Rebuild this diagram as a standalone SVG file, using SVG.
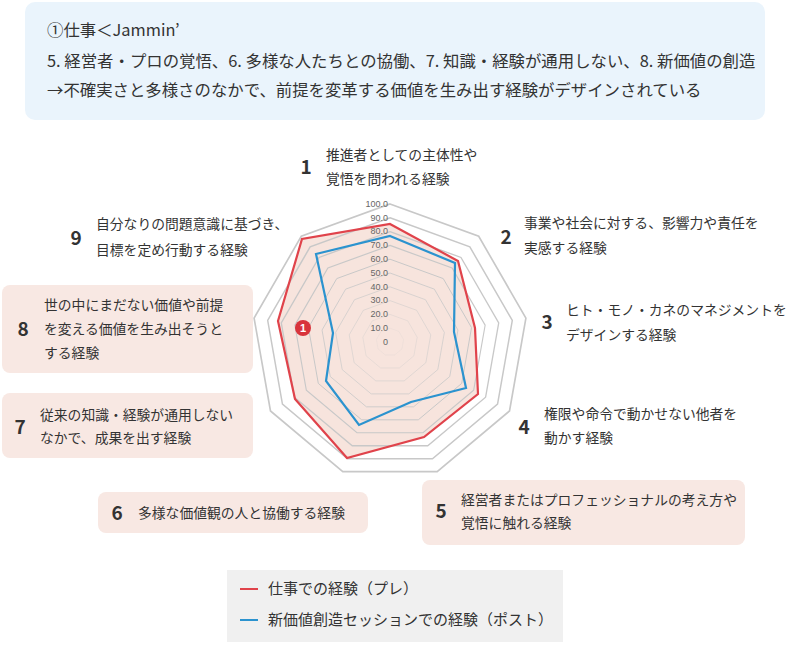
<svg xmlns="http://www.w3.org/2000/svg" xmlns:xlink="http://www.w3.org/1999/xlink" width="790" height="648" viewBox="0 0 790 648">
<style>
text{font-family:"Noto Sans CJK JP","Noto Sans",sans-serif;fill:#333}
.t{font-size:13.8px}
.n{font-size:19px;font-weight:bold;text-anchor:middle}
.h{font-size:16.4px}
.tick{font-size:9px;fill:#666;text-anchor:end;font-family:"Liberation Sans",sans-serif}
.box{fill:#f8e8e3}
.grid{fill:none;stroke:#c8c8c8;stroke-width:1.2;vector-effect:non-scaling-stroke}
</style>
<defs>
<polygon id="ng" points="0,-100 64.28,-76.6 98.48,-17.36 86.6,50 34.2,93.97 -34.2,93.97 -86.6,50 -98.48,-17.36 -64.28,-76.6"/>
</defs>
<g id="header">
<rect x="25" y="2" width="740" height="118" rx="10" fill="#eaf4fc"/>
<text class="h" x="47" y="36">①仕事＜Jammin’</text>
<text class="h" x="47" y="67">5. 経営者・プロの覚悟、6. 多様な人たちとの協働、7. 知識・経験が通用しない、8. 新価値の創造</text>
<text class="h" x="47" y="96">→不確実さと多様さのなかで、前提を変革する価値を生み出す経験がデザインされている</text>
</g>
<g id="chart">
<polygon points="390,224 458,261 475,328 478,394 424,437 347,458 295,399 278,321 302,239" fill="#f5ddd5" fill-opacity="0.8"/>
<g transform="translate(390,342)">
<use xlink:href="#ng" class="grid" transform="scale(0.138)"/>
<use xlink:href="#ng" class="grid" transform="scale(0.276)"/>
<use xlink:href="#ng" class="grid" transform="scale(0.414)"/>
<use xlink:href="#ng" class="grid" transform="scale(0.552)"/>
<use xlink:href="#ng" class="grid" transform="scale(0.69)"/>
<use xlink:href="#ng" class="grid" transform="scale(0.828)"/>
<use xlink:href="#ng" class="grid" transform="scale(0.966)"/>
<use xlink:href="#ng" class="grid" transform="scale(1.104)"/>
<use xlink:href="#ng" class="grid" transform="scale(1.242)"/>
<use xlink:href="#ng" class="grid" transform="scale(1.38)"/>
</g>
<polygon points="390,224 458,261 475,328 478,394 424,437 347,458 295,399 278,321 302,239" fill="none" stroke="#e0434b" stroke-width="2.2"/>
<polygon points="390,236 455,263 454,332 466,388 411,402 359,425 326,381 333,333 316,254" fill="none" stroke="#2b93cf" stroke-width="2.2"/>
<g>
<text class="tick" x="388" y="345">0</text>
<text class="tick" x="388" y="331">10.0</text>
<text class="tick" x="388" y="317">20.0</text>
<text class="tick" x="388" y="303">30.0</text>
<text class="tick" x="388" y="290">40.0</text>
<text class="tick" x="388" y="276">50.0</text>
<text class="tick" x="388" y="262">60.0</text>
<text class="tick" x="388" y="248">70.0</text>
<text class="tick" x="388" y="234">80.0</text>
<text class="tick" x="388" y="221">90.0</text>
<text class="tick" x="388" y="207">100.0</text>
</g>
<circle cx="303" cy="328" r="8" fill="#d8343c"/>
<text x="303" y="332" font-size="11" font-weight="bold" text-anchor="middle" style="fill:#fff;font-family:'Liberation Sans',sans-serif">1</text>
</g>
<g id="n1"><text class="n" x="306" y="174">1</text><text class="t" x="326" y="160">推進者としての主体性や</text><text class="t" x="326" y="184">覚悟を問われる経験</text></g>
<g id="n2"><text class="n" x="506" y="244">2</text><text class="t" x="524" y="228">事業や社会に対する、影響力や責任を</text><text class="t" x="524" y="253">実感する経験</text></g>
<g id="n3"><text class="n" x="547" y="329">3</text><text class="t" x="566" y="315">ヒト・モノ・カネのマネジメントを</text><text class="t" x="566" y="340">デザインする経験</text></g>
<g id="n4"><text class="n" x="524" y="434">4</text><text class="t" x="544" y="419">権限や命令で動かせない他者を</text><text class="t" x="544" y="443">動かす経験</text></g>
<g id="n5"><rect class="box" x="422" y="480" width="323" height="65" rx="8"/><text class="n" x="441" y="518">5</text><text class="t" x="461" y="505">経営者またはプロフェッショナルの考え方や</text><text class="t" x="461" y="528">覚悟に触れる経験</text></g>
<g id="n6"><rect class="box" x="98" y="492" width="270" height="41" rx="8"/><text class="n" x="117" y="520">6</text><text class="t" x="138" y="518">多様な価値観の人と協働する経験</text></g>
<g id="n7"><rect class="box" x="2" y="393" width="251" height="65" rx="8"/><text class="n" x="20" y="434">7</text><text class="t" x="40" y="420">従来の知識・経験が通用しない</text><text class="t" x="40" y="443">なかで、成果を出す経験</text></g>
<g id="n8"><rect class="box" x="2" y="285" width="251" height="88" rx="8"/><text class="n" x="23" y="336">8</text><text class="t" x="44" y="310">世の中にまだない価値や前提</text><text class="t" x="44" y="334">を変える価値を生み出そうと</text><text class="t" x="44" y="358">する経験</text></g>
<g id="n9"><text class="n" x="76" y="245">9</text><text class="t" x="96" y="229">自分なりの問題意識に基づき、</text><text class="t" x="96" y="255">目標を定め行動する経験</text></g>
<g id="legend">
<rect x="227" y="570" width="336" height="72" fill="#f0f0f0"/>
<line x1="240" y1="589" x2="258" y2="589" stroke="#e0434b" stroke-width="2"/>
<text x="268" y="594" font-size="15">仕事での経験（プレ）</text>
<line x1="240" y1="620" x2="258" y2="620" stroke="#2b93cf" stroke-width="2"/>
<text x="268" y="625" font-size="15">新価値創造セッションでの経験（ポスト）</text>
</g>
</svg>
